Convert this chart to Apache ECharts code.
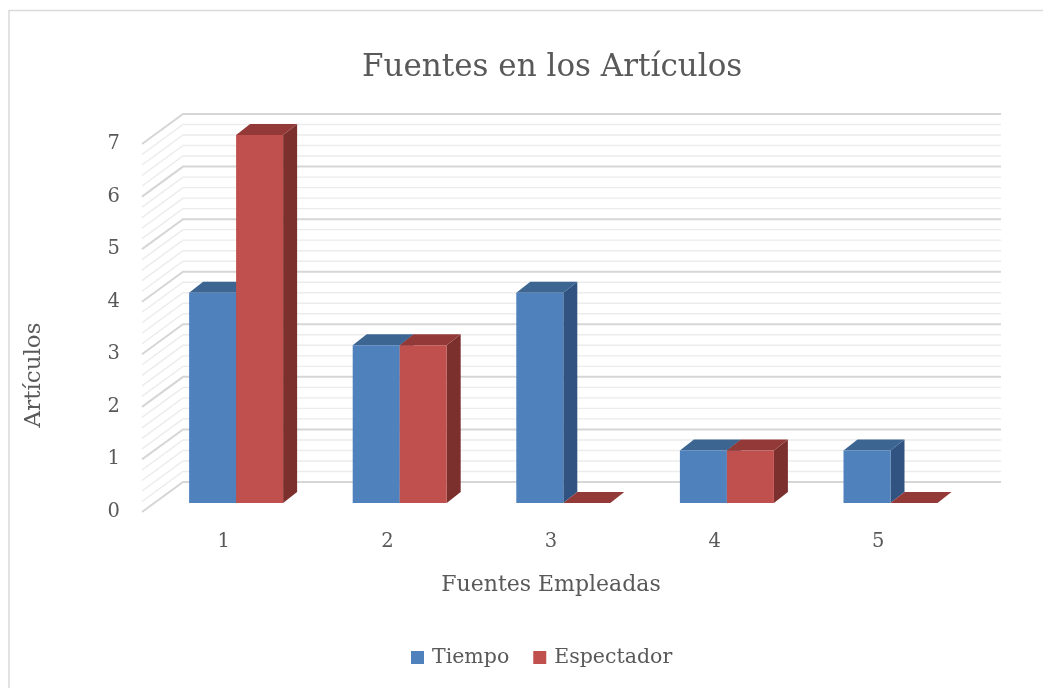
<!DOCTYPE html>
<html>
<head>
<meta charset="utf-8">
<script src="https://cdn.jsdelivr.net/npm/echarts@6/dist/echarts.min.js"></script>
<style>
html,body{margin:0;padding:0;background:#fff;}
#chart{width:1043px;height:688px;}
</style>
</head>
<body>
<div id="chart"></div>
<script>
const categories = ['1', '2', '3', '4', '5'];
const tiempo = [4, 3, 4, 1, 1];
const espectador = [7, 3, 0, 1, 0];
const yTicks = [0, 1, 2, 3, 4, 5, 6, 7];
const seriesNames = ['Tiempo', 'Espectador'];
const titleText = 'Fuentes en los Artículos';
const xName = 'Fuentes Empleadas';
const yName = 'Artículos';

const FONT = 'DejaVu Serif';
const TXT = '#595959';
const WALL_DEPTH = [41, -30];
const BAR_FRONT_OFF = [12.3, -9];
const BAR_DEPTH = [14, -11];
const BAR_W = 0.2873;
const MINOR = 5;

const palette = [
  { front: '#4f81bd', top: '#3c6592', side: '#305381' },
  { front: '#c0504d', top: '#933a38', side: '#7b302e' }
];

function wallRender(params, api) {
  const cs = params.coordSys;
  const minor = [], major = [];
  const maxV = yTicks[yTicks.length - 1];
  const n = maxV * MINOR;
  for (let i = 0; i <= n; i++) {
    const v = i / MINOR;
    const y = api.coord([0, v])[1];
    const isMajor = i % MINOR === 0;
    const el = {
      type: 'polyline',
      shape: { points: [[cs.x, y], [cs.x + WALL_DEPTH[0], y + WALL_DEPTH[1]], [cs.x + cs.width + WALL_DEPTH[0], y + WALL_DEPTH[1]]] },
      style: { stroke: isMajor ? '#d6d6d6' : '#ececec', lineWidth: isMajor ? 2 : 1.4, fill: null }
    };
    (isMajor ? major : minor).push(el);
  }
  return { type: 'group', silent: true, children: minor.concat(major) };
}

function barRender(k) {
  const col = palette[k];
  return function (params, api) {
    const idx = api.value(0), val = api.value(1);
    const band = api.size([1, 0])[0];
    const w = band * BAR_W;
    const c = api.coord([idx, 0]);
    const t = api.coord([idx, val]);
    const x0 = c[0] + (k - 1) * w + BAR_FRONT_OFF[0];
    const yb = c[1] + BAR_FRONT_OFF[1];
    const yt = t[1] + BAR_FRONT_OFF[1];
    const bx = BAR_DEPTH[0], by = BAR_DEPTH[1];
    const children = [
      { type: 'polygon', shape: { points: [[x0 + w, yt], [x0 + w + bx, yt + by], [x0 + w + bx, yb + by], [x0 + w, yb]] }, style: { fill: col.side } },
      { type: 'polygon', shape: { points: [[x0, yt], [x0 + w, yt], [x0 + w + bx, yt + by], [x0 + bx, yt + by]] }, style: { fill: col.top } }
    ];
    if (yb - yt > 0.5) {
      children.push({ type: 'rect', shape: { x: x0, y: yt, width: w, height: yb - yt }, style: { fill: col.front } });
    }
    return { type: 'group', children };
  };
}

const chart = echarts.init(document.getElementById('chart'), null, { renderer: 'canvas' });
chart.setOption({
  backgroundColor: '#ffffff',
  animation: false,
  title: {
    text: titleText, left: 357, top: 47,
    textStyle: { fontFamily: FONT, fontSize: 31, fontWeight: 'normal', color: TXT }
  },
  legend: {
    data: seriesNames.map((n, i) => ({ name: n, icon: 'rect', itemStyle: { color: palette[i].front } })),
    bottom: 15, left: 406, itemWidth: 13, itemHeight: 13, itemGap: 24,
    textStyle: { fontFamily: FONT, fontSize: 20.5, color: TXT, padding: [0, 0, 0, 3] }
  },
  grid: { left: 142, right: 83, top: 144, bottom: 176 },
  xAxis: {
    type: 'category', data: categories,
    axisLine: { show: false }, axisTick: { show: false },
    axisLabel: { fontFamily: FONT, fontSize: 19.5, color: TXT, margin: 20 },
    name: xName, nameLocation: 'middle', nameGap: 62,
    nameTextStyle: { fontFamily: FONT, fontSize: 22, color: TXT }
  },
  yAxis: {
    type: 'value', min: 0, max: 7, interval: 1,
    axisLine: { show: false }, axisTick: { show: false }, splitLine: { show: false },
    axisLabel: { fontFamily: FONT, fontSize: 19.5, color: TXT, margin: 22 },
    name: yName, nameLocation: 'middle', nameGap: 96, nameRotate: 90,
    nameTextStyle: { fontFamily: FONT, fontSize: 23, color: TXT, padding: [0, 94, 0, 0] }
  },
  graphic: [{
    type: 'rect', z: -10, silent: true,
    shape: { x: 9, y: 10.5, width: 1200, height: 1000 },
    style: { fill: null, stroke: '#d9d9d9', lineWidth: 1.5 }
  }],
  series: [
    { type: 'custom', name: '_wall', renderItem: wallRender, data: [[0, 0]], encode: { x: 0, y: 1 }, z: 1, silent: true },
    { type: 'custom', name: seriesNames[0], renderItem: barRender(0), itemStyle: { color: palette[0].front },
      data: tiempo.map((v, i) => [i, v]), encode: { x: 0, y: 1 }, z: 2 },
    { type: 'custom', name: seriesNames[1], renderItem: barRender(1), itemStyle: { color: palette[1].front },
      data: espectador.map((v, i) => [i, v]), encode: { x: 0, y: 1 }, z: 3 }
  ]
});
</script>
</body>
</html>
